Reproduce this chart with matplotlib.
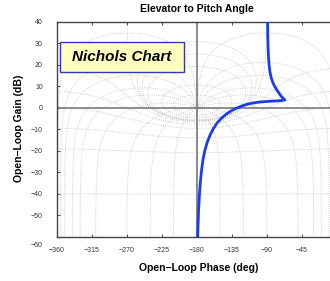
import numpy as np
import matplotlib
matplotlib.use('Agg')
import matplotlib.pyplot as plt
from matplotlib.patches import Rectangle
from matplotlib.transforms import ScaledTranslation

plt.rcParams['font.family'] = ['Liberation Sans', 'DejaVu Sans']

# Open-loop response (elevator -> pitch angle)
phase_deg = [-89.1, -88.9, -88.5, -88.0, -87.2, -86.2, -84.8, -83.0, -80.8,
             -78.2, -75.3, -72.3, -69.5, -66.9,
             -72.0, -80.0, -90.0, -100.0, -107.6, -113.0, -118.0, -122.0,
             -125.5, -130.0, -136.0, -142.0, -148.0, -154.0, -159.0, -163.0,
             -166.5, -169.5, -172.0, -174.0, -175.6, -176.8, -177.8, -178.5,
             -179.1]
gain_db = [41.0, 34.0, 28.0, 24.0, 20.0, 17.0, 14.5, 12.4, 10.6,
           8.9, 7.3, 5.7, 4.6, 3.7,
           3.4, 3.2, 3.0, 2.7, 2.3, 1.9, 1.4, 0.9,
           0.4, -0.3, -1.4, -2.8, -4.7, -7.0, -9.8, -12.6,
           -15.8, -19.5, -23.8, -29.0, -35.0, -41.0, -48.0, -55.0,
           -62.0]

x_ticks = [-360, -315, -270, -225, -180, -135, -90, -45, 0]
x_tick_labels = ['\u2212360', '\u2212315', '\u2212270', '\u2212225', '\u2212180',
                 '\u2212135', '\u221290', '\u221245', '']
y_ticks = [-60, -50, -40, -30, -20, -10, 0, 10, 20, 30, 40]

# Nichols grid: closed-loop magnitudes (dB) and phases (deg)
cl_mags = [6, 3, 1, 0.5, 0.25, 0, -1, -3, -6, -12, -20, -40]
cl_phases = [1, 5, 10, 20, 30, 50, 90, 120, 150, 179.999]


def open_loop(T):
    # G = T / (1 - T), phase kept in (-360, 0)
    ph = np.degrees(np.angle(T) - np.angle(1 - T))
    mag = 20 * np.log10(np.abs(T) / np.abs(1 - T))
    return ph, mag


fig = plt.figure(figsize=(3.3, 2.81), dpi=100)
ax = fig.add_axes([0.172, 0.157, 0.849, 0.765])

grid_kw = dict(ls=':', color='#bdbdbd', lw=0.6, zorder=1)

# constant closed-loop magnitude contours
psi = np.linspace(-np.pi + 1e-6, -1e-6, 800)
for m in cl_mags:
    T = 10 ** (m / 20) * np.exp(1j * psi)
    ph, mag = open_loop(T)
    ax.plot(ph, mag, **grid_kw)
    ax.plot(-360 - ph, mag, **grid_kw)

# constant closed-loop phase contours
M = np.logspace(-5, 5, 2000)
for p in cl_phases:
    T = M * np.exp(-1j * np.radians(p))
    ph, mag = open_loop(T)
    ax.plot(ph, mag, **grid_kw)
    ax.plot(-360 - ph, mag, **grid_kw)

ax.axvline(-180, color='#7a7a7a', lw=1.2, zorder=2)
ax.axhline(0, color='#7a7a7a', lw=1.2, zorder=2)

ax.plot(phase_deg, gain_db, color='#1a3cf2', lw=2, zorder=3,
        solid_joinstyle='round', solid_capstyle='round')

ax.set_xlim(-360, 0)
ax.set_ylim(-60, 40)
ax.set_xticks(x_ticks)
ax.set_xticklabels(x_tick_labels)
ax.set_yticks(y_ticks)
ax.tick_params(direction='in', length=2.5, width=0.6, top=True, right=False,
               labelsize=5, colors='#333333')
ax.tick_params(axis='y', pad=10)
ax.tick_params(axis='x', pad=7)
for s in ax.spines.values():
    s.set_color('#444444')
    s.set_linewidth(1)

# push the -60 label down like in the original
lab = ax.get_yticklabels()[0]
lab.set_transform(lab.get_transform() + ScaledTranslation(0, -0.08, fig.dpi_scale_trans))

# label box
ax.add_patch(Rectangle((0.0118, 0.767), 0.442, 0.140, transform=ax.transAxes,
                       fc='#ffffc0', ec='#3535b8', lw=1, zorder=4))
ax.text(0.233, 0.837, 'Nichols Chart', transform=ax.transAxes, fontsize=11,
        fontweight='bold', style='italic', ha='center', va='center', zorder=5)

fig.text(197 / 330, 1 - 9 / 281, 'Elevator to Pitch Angle', fontsize=7.5,
         fontweight='bold', ha='center', va='center')
fig.text(199 / 330, 1 - 268 / 281, 'Open\u2212Loop Phase (deg)', fontsize=7.5,
         fontweight='bold', ha='center', va='center')
fig.text(19 / 330, 1 - 128 / 281, 'Open\u2212Loop Gain (dB)', fontsize=7.5,
         fontweight='bold', ha='center', va='center', rotation=90)

fig.savefig('out.png', dpi=100)
